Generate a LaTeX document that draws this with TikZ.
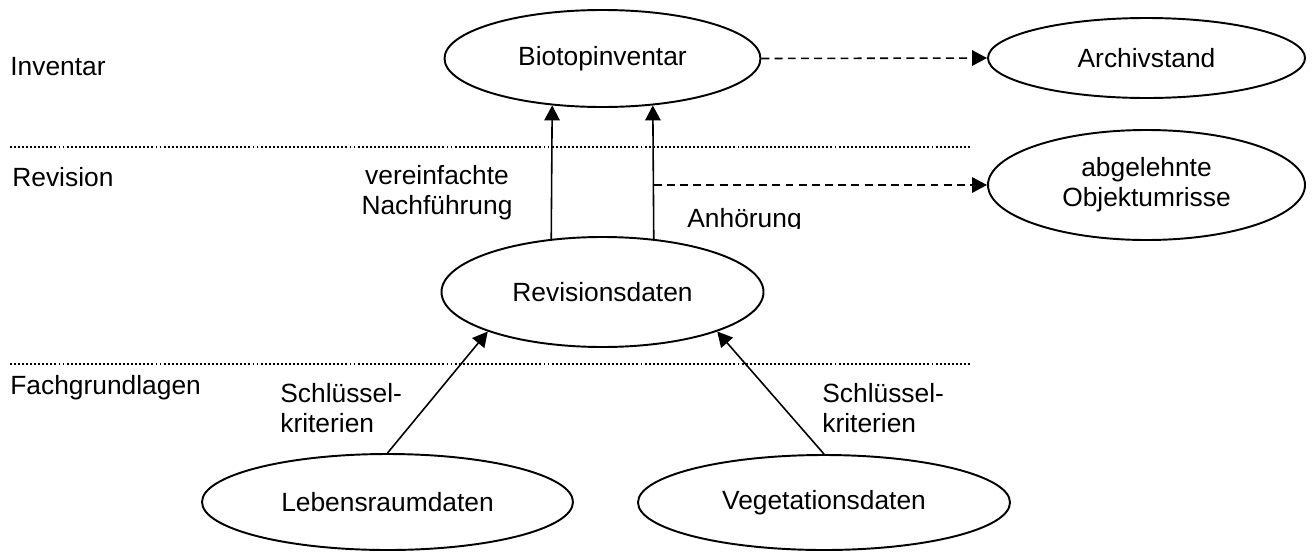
\documentclass[tikz,border=0pt]{standalone}
\usepackage{fontspec}
\setmainfont{Liberation Sans}
\usetikzlibrary{shapes.geometric,arrows.meta}
\begin{document}
\begin{tikzpicture}[
    font=\fontsize{15}{17}\selectfont,
    daten/.style={draw,ellipse,line width=1.1pt,inner sep=0pt,align=center},
    beschr/.style={inner sep=0pt,align=left},
    pfeil/.style={line width=0.9pt,-{Triangle[length=0.3cm,width=0.31cm]}},
    strich/.style={pfeil,dash pattern=on 4.5pt off 3pt},
    trenn/.style={line width=1.2pt,dash pattern=on 1.1pt off 1.2pt}]
  \useasboundingbox (0,0) rectangle (26.24,-11.02);
  % Ebenen
  \draw[trenn] (0.2,-2.94) -- (19.4,-2.94);
  \draw[trenn] (0.2,-7.28) -- (19.4,-7.28);
  \node[beschr,anchor=west] (inv) at (0.2,-1.34) {Inventar};
  \node[beschr,anchor=west] (revlab) at (0.24,-3.54) {Revision};
  \node[beschr,anchor=west] (fach) at (0.2,-7.76) {Fachgrundlagen};
  % Datenbestaende
  \node[daten,minimum width=6.32cm,minimum height=1.94cm] (bio) at (12.05,-1.17) {Biotopinventar};
  \node[daten,minimum width=6.34cm,minimum height=1.6cm] (archiv) at (22.93,-1.16) {Archivstand};
  \node[daten,minimum width=6.34cm,minimum height=2.2cm] (abgel) at (22.93,-3.70) {abgelehnte\\Objektumrisse};
  \node[daten,minimum width=6.44cm,minimum height=2.2cm] (rev) at (12.05,-5.84) {Revisionsdaten};
  \node[daten,minimum width=7.42cm,minimum height=1.92cm] (leben) at (7.75,-10.04) {Lebensraumdaten};
  \node[daten,minimum width=7.44cm,minimum height=1.9cm] (veget) at (16.48,-10.05) {Vegetationsdaten};
  % Pfeile
  \draw[pfeil] (rev.134) -- (bio.223);
  \draw[pfeil] (rev.46) -- (bio.317);
  \draw[strich] (bio.east) -- (archiv.west);
  \draw[strich] (rev.46 |- abgel.west) -- (abgel.west);
  \draw[pfeil] (leben.north) -- (rev.199);
  \draw[pfeil] (veget.north) -- (rev.341);
  % Beschriftungen
  \node[beschr,align=center] (vereinf) at (8.74,-3.86) {vereinfachte\\Nachführung};
  \begin{scope}
    \clip (13.6,-4.0) rectangle (16.2,-4.57);
    \node[beschr,anchor=west] (anh) at (13.74,-4.42) {Anhörung};
  \end{scope}
  \node[beschr,anchor=west] (schl1) at (5.6,-8.16) {Schlüssel-\\kriterien};
  \node[beschr,anchor=west] (schl2) at (16.44,-8.16) {Schlüssel-\\kriterien};
\end{tikzpicture}
\end{document}
